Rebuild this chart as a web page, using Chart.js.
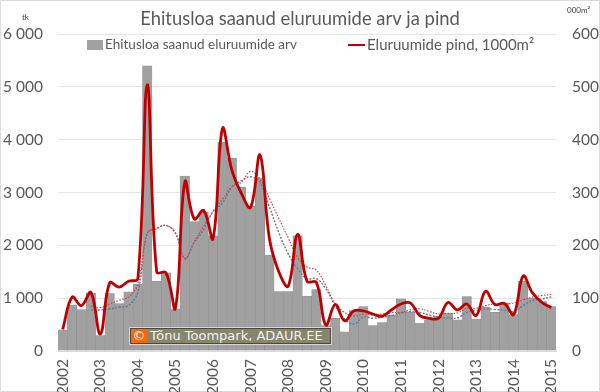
<!DOCTYPE html>
<html>
<head>
<meta charset="utf-8">
<title>Ehitusloa saanud eluruumide arv ja pind</title>
<script src="https://cdn.jsdelivr.net/npm/chart.js@4"></script>
<style>
  html, body { margin: 0; padding: 0; background: #fff; }
  #wrap { position: relative; width: 600px; height: 392px; overflow: hidden; font-family: Lato, sans-serif; }
  canvas { position: absolute; left: 0; top: 0; }
  .unit { position: absolute; color: #404040; font-size: 8px; line-height: 10px; }
  .legend-item { position: absolute; top: 35px; height: 18px; line-height: 18px; color: #595959; white-space: nowrap; }
  .legend-item i { position: absolute; display: block; }
  #badge {
    position: absolute; left: 130px; top: 328px; width: 199px; height: 14px;
    background: #86866f; border: 1px solid #4a4a40; outline: 1px solid #d8d8d0;
    color: #f2f2ea; font: 13px/14px "DejaVu Sans", sans-serif; white-space: nowrap; overflow: hidden;
  }
  #badge b { display: inline-block; width: 16px; height: 14px; margin-right: 3px; background: #f26a10; color: #fff; font-weight: normal; text-align: center; }
</style>
</head>
<body>
<div id="wrap">
  <canvas id="chart" width="600" height="392"></canvas>
  <div class="unit" style="left:22px;top:12px">tk</div>
  <div class="unit" style="left:567px;top:5px">000m²</div>
  <div class="legend-item" style="left:105px;font-size:13.5px"><i style="left:-18px;top:5px;width:16px;height:10px;background:#a1a1a1"></i>Ehitusloa saanud eluruumide arv</div>
  <div class="legend-item" style="left:367px;font-size:15px"><i style="left:-19px;top:9px;width:17px;height:2px;background:#c00000"></i>Eluruumide pind, 1000m²</div>
  <div id="badge"><b>©</b>Tõnu Toompark, ADAUR.EE</div>
</div>
<script>
// kvartalid 2002 Q1 .. 2015 Q1, silt ainult aasta esimesel kvartalil
const categories = [
  "2002", "", "", "", "2003", "", "", "", "2004", "", "", "",
  "2005", "", "", "", "2006", "", "", "", "2007", "", "", "",
  "2008", "", "", "", "2009", "", "", "", "2010", "", "", "",
  "2011", "", "", "", "2012", "", "", "", "2013", "", "", "",
  "2014", "", "", "", "2015"
];

// eluruumide arv, tk (vasak telg)
const dwellings = [
  400, 870, 785, 1095, 290, 1085, 900, 1120, 1260, 5400, 1320, 1480,
  800, 3310, 2450, 2630, 2180, 3950, 3650, 3100, 2740, 3280, 1815, 1125,
  1125, 2180, 1040, 1165, 480, 620, 365, 765, 840, 480, 540, 680,
  990, 730, 530, 590, 660, 720, 590, 1030, 605, 830, 730, 910,
  690, 1325, 1000, 935, 840
];

// eluruumide pind, 1000 m2 (parem telg)
const area = [
  41, 102, 86, 111, 32, 129, 121, 132, 137, 504, 150, 148,
  81, 320, 250, 266, 213, 421, 343, 299, 272, 371, 213, 150,
  123, 221, 132, 130, 49, 88, 57, 76, 76, 70, 66, 78,
  89, 91, 67, 62, 62, 92, 78, 89, 67, 113, 88, 90,
  69, 142, 110, 92, 82
];

// punktiirjooned, loetud pildilt
const dwellingsTrend = [
  null, null, null, 777, 777, 796, 828, 860, 1115, 2230, 2325, 2375,
  2230, 1750, 2050, 2300, 2640, 2800, 3100, 3220, 3300, 3190, 2730, 2240,
  1840, 1560, 1370, 1370, 1180, 860, 605, 510, 640, 620, 640, 670,
  720, 745, 730, 680, 640, 625, 625, 730, 765, 795, 785, 775,
  745, 860, 955, 985, 1025
];
const areaTrend = [
  null, null, null, 85, 82, 89, 96, 102, 127, 223, 231, 238,
  223, 175, 207, 236, 264, 287, 311, 319, 340, 325, 289, 251,
  214, 177, 159, 153, 124, 89, 73, 66, 70, 68, 70, 73,
  73, 78, 80, 75, 70, 71, 72, 81, 81, 86, 89, 89,
  91, 97, 102, 105, 107
];

const leftTicksMax = 6000;
const rightTicksMax = 600;
const textColor = "#595959";

function formatThousands(value) {
  return String(value).replace(/\B(?=(\d{3})+$)/g, " ");
}

const pageBackground = {
  id: "pageBackground",
  beforeDraw(chart) {
    const ctx = chart.ctx;
    ctx.save();
    ctx.fillStyle = "#fff";
    ctx.fillRect(0, 0, chart.width, chart.height);
    ctx.strokeStyle = "#dcdcdc";
    ctx.lineWidth = 2;
    ctx.strokeRect(0, 0, chart.width, chart.height);
    ctx.restore();
  }
};

new Chart(document.getElementById("chart"), {
  type: "bar",
  plugins: [pageBackground],
  data: {
    labels: categories,
    datasets: [
      {
        label: "Eluruumide pind, 1000m²",
        type: "line",
        data: area,
        yAxisID: "y2",
        borderColor: "#c00000",
        borderWidth: 2.8,
        pointRadius: 0,
        tension: 0.4,
        order: 0
      },
      {
        label: "pind trend",
        type: "line",
        data: areaTrend,
        yAxisID: "y2",
        borderColor: "#d9404c",
        borderWidth: 1.2,
        borderDash: [1.5, 1.5],
        pointRadius: 0,
        tension: 0.4,
        order: 1
      },
      {
        label: "arv trend",
        type: "line",
        data: dwellingsTrend,
        yAxisID: "y",
        borderColor: "#5f7d9c",
        borderWidth: 1.4,
        borderDash: [2, 1.5],
        pointRadius: 0,
        tension: 0.4,
        order: 2
      },
      {
        label: "Ehitusloa saanud eluruumide arv",
        data: dwellings,
        yAxisID: "y",
        backgroundColor: "#a0a0a0",
        borderColor: "#8e8e8e",
        borderWidth: 0.5,
        barPercentage: 1,
        categoryPercentage: 1,
        order: 3
      }
    ]
  },
  options: {
    responsive: false,
    animation: false,
    layout: { padding: 0 },
    plugins: {
      title: {
        display: true,
        text: "Ehitusloa saanud eluruumide arv ja pind",
        color: textColor,
        font: { family: "Lato", size: 18.4, weight: "normal" },
        padding: { top: 8, bottom: 4 }
      },
      tooltip: { enabled: false },
      legend: { display: false }
    },
    scales: {
      x: {
        grid: { display: false },
        border: { color: "#d9d9d9", width: 1 },
        afterFit(scale) { scale.height = 41; },
        ticks: {
          autoSkip: false,
          minRotation: 90,
          maxRotation: 90,
          padding: 0,
          color: textColor,
          font: { family: "Lato", size: 15.5 }
        }
      },
      y: {
        position: "left",
        min: 0,
        max: leftTicksMax,
        afterFit(scale) { scale.width = 58; },
        grid: { color: "#e6e6e6", lineWidth: 1, drawTicks: false },
        border: { display: false },
        ticks: {
          stepSize: 1000,
          padding: 15,
          color: textColor,
          font: { family: "Lato", size: 15.5 },
          callback: formatThousands
        }
      },
      y2: {
        position: "right",
        min: 0,
        max: rightTicksMax,
        afterFit(scale) { scale.width = 44; },
        grid: { display: false, drawTicks: false },
        border: { display: false },
        ticks: {
          stepSize: 100,
          padding: 16,
          color: textColor,
          font: { family: "Lato", size: 15.5 }
        }
      }
    }
  }
});
</script>
</body>
</html>
